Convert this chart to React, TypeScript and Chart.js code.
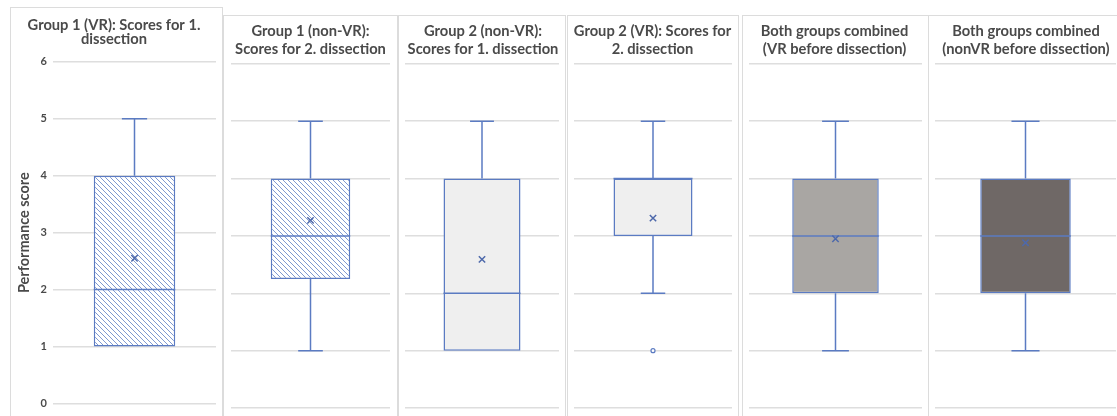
import React, { useEffect, useRef } from "react";
import { Chart, registerables } from "chart.js";

Chart.register(...registerables);

// ---------------- data ----------------
const panelTitles: string[][] = [
  ["Group 1 (VR): Scores for 1.", "dissection"],
  ["Group 1 (non-VR):", "Scores for 2. dissection"],
  ["Group 2 (non-VR):", "Scores for 1. dissection"],
  ["Group 2 (VR): Scores for", "2. dissection"],
  ["Both groups combined", "(VR before dissection)"],
  ["Both groups combined", "(nonVR before dissection)"],
];
const categoryLabel = ["Score"];
const minValues = [1, 1, 1, 2, 1, 1];
const q1Values = [1, 2.25, 1, 3, 2, 2];
const medianValues = [2, 3, 2, 4, 3, 3];
const q3Values = [4, 4, 4, 4, 4, 4];
const maxValues = [5, 5, 5, 5, 5, 5];
const meanValues = [2.55, 3.27, 2.59, 3.31, 2.95, 2.88];
const outlierValues: number[][] = [[], [], [], [1], [], []];
const yAxisTitle = "Performance score";
const yMin = 0;
const yMax = 6;
const yStep = 1;

// ---------------- styles ----------------
const FONT = "Lato, 'Open Sans', sans-serif";
const LINE = "#5B7BC2";
const MEAN = "#4E69AB";
const GRID = "#DEDEDE";
const TEXT = "#4A4A4A";
const PANEL_BORDER = "#DCDCDC";
const boxFills = ["hatch", "hatch", "#EFEFEF", "#EFEFEF", "#A9A6A3", "#6F6866"];

const frames = [
  { left: 10, top: 7, width: 213, axisW: 42, padL: 0, padR: 5, padB: 10, tTop: 10, tBot: 16, lh: 0.95 },
  { left: 223, top: 15, width: 175, axisW: 0, padL: 7, padR: 7, padB: 8, tTop: 6.5, tBot: 6, lh: 1.2 },
  { left: 398, top: 15, width: 168, axisW: 0, padL: 4, padR: 2, padB: 8, tTop: 6.5, tBot: 6, lh: 1.2 },
  { left: 567, top: 15, width: 172, axisW: 0, padL: 4, padR: 5, padB: 8, tTop: 6.5, tBot: 6, lh: 1.2 },
  { left: 742, top: 15, width: 187, axisW: 0, padL: 4, padR: 6, padB: 8, tTop: 6.5, tBot: 6, lh: 1.2 },
  { left: 928, top: 15, width: 195, axisW: 0, padL: 6, padR: 5, padB: 8, tTop: 6.5, tBot: 6, lh: 1.2 },
];

function makeHatch(): CanvasPattern | string {
  const s = 5;
  const c = document.createElement("canvas");
  c.width = s;
  c.height = s;
  const g = c.getContext("2d");
  if (!g) return "#FFFFFF";
  g.fillStyle = "#FFFFFF";
  g.fillRect(0, 0, s, s);
  g.strokeStyle = "#7F99D0";
  g.lineWidth = 1;
  g.beginPath();
  for (const k of [-s, 0, s]) {
    g.moveTo(k, 0);
    g.lineTo(k + s, s);
  }
  g.stroke();
  return g.createPattern(c, "repeat") || "#FFFFFF";
}

function Panel({ idx }: { idx: number }) {
  const ref = useRef<HTMLCanvasElement>(null);
  const f = frames[idx];
  useEffect(() => {
    if (!ref.current) return;
    const fill = boxFills[idx] === "hatch" ? makeHatch() : boxFills[idx];
    const whiskerPlugin = {
      id: "whiskers" + idx,
      afterDatasetDraw(chart: any, args: any) {
        if (args.index !== 0) return;
        const el = args.meta.data[0];
        if (!el) return;
        const y = chart.scales.y;
        const ctx = chart.ctx;
        const x = el.x;
        const half = el.width / 2;
        const cap = el.width * 0.155;
        ctx.save();
        ctx.strokeStyle = LINE;
        ctx.lineWidth = 1.5;
        ctx.beginPath();
        const ym = y.getPixelForValue(medianValues[idx]);
        ctx.moveTo(x - half, ym);
        ctx.lineTo(x + half, ym);
        const yq3 = y.getPixelForValue(q3Values[idx]);
        const yMaxP = y.getPixelForValue(maxValues[idx]);
        if (maxValues[idx] > q3Values[idx]) {
          ctx.moveTo(x, yq3);
          ctx.lineTo(x, yMaxP);
          ctx.moveTo(x - cap, yMaxP);
          ctx.lineTo(x + cap, yMaxP);
        }
        const yq1 = y.getPixelForValue(q1Values[idx]);
        const yMinP = y.getPixelForValue(minValues[idx]);
        if (minValues[idx] < q1Values[idx]) {
          ctx.moveTo(x, yq1);
          ctx.lineTo(x, yMinP);
          ctx.moveTo(x - cap, yMinP);
          ctx.lineTo(x + cap, yMinP);
        }
        ctx.stroke();
        ctx.restore();
      },
    };
    const isFirst = idx === 0;
    const chart = new Chart(ref.current, {
      type: "bar",
      data: {
        labels: categoryLabel,
        datasets: [
          {
            type: "bar",
            data: [[q1Values[idx], q3Values[idx]]] as any,
            backgroundColor: fill as any,
            borderColor: LINE,
            borderWidth: 1.5,
            borderSkipped: false,
            grouped: false,
            barPercentage: 0.5,
            categoryPercentage: 1,
            order: 2,
          } as any,
          {
            type: "line",
            data: [{ x: categoryLabel[0], y: meanValues[idx] }] as any,
            showLine: false,
            pointStyle: "crossRot",
            pointRadius: 4.5,
            pointBorderColor: MEAN,
            pointBorderWidth: 1.5,
            pointBackgroundColor: MEAN,
            order: 0,
          } as any,
          {
            type: "line",
            data: outlierValues[idx].map((v) => ({ x: categoryLabel[0], y: v })) as any,
            showLine: false,
            pointStyle: "circle",
            pointRadius: 2,
            pointBorderColor: LINE,
            pointBorderWidth: 1.2,
            pointBackgroundColor: "#FFFFFF",
            order: 0,
          } as any,
        ],
      },
      options: {
        responsive: false,
        animation: false,
        events: [],
        layout: { padding: { left: f.padL, right: f.padR, top: 0, bottom: f.padB } },
        plugins: {
          legend: { display: false },
          tooltip: { enabled: false },
          title: {
            display: true,
            text: panelTitles[idx],
            color: TEXT,
            font: { family: FONT, size: 14.7, weight: "bold", lineHeight: f.lh },
            padding: { top: f.tTop, bottom: f.tBot },
          },
        },
        scales: {
          x: { display: false },
          y: {
            min: yMin,
            max: yMax,
            border: { display: false },
            grid: { color: GRID, lineWidth: 1.5, drawTicks: false },
            ticks: {
              display: isFirst,
              stepSize: yStep,
              color: TEXT,
              padding: 6,
              font: { family: FONT, size: 11, weight: "bold" },
            },
            title: {
              display: isFirst,
              text: yAxisTitle,
              color: TEXT,
              font: { family: FONT, size: 14.5, weight: "bold" },
              padding: { top: 5, bottom: 0 },
            },
            afterFit: (scale: any) => {
              scale.width = f.axisW;
            },
          },
        },
      } as any,
      plugins: [whiskerPlugin],
    });
    return () => chart.destroy();
  }, [idx]);
  return (
    <div
      style={{
        position: "absolute",
        left: f.left,
        top: f.top,
        width: f.width,
        height: 440,
        border: `1px solid ${PANEL_BORDER}`,
        boxSizing: "border-box",
        background: "#FFFFFF",
      }}
    >
      <canvas ref={ref} width={f.width - 2} height={416 - f.top - 1} style={{ display: "block" }} />
    </div>
  );
}

export default function App() {
  return (
    <div
      style={{
        position: "absolute",
        left: 0,
        top: 0,
        width: 1117,
        height: 416,
        overflow: "hidden",
        background: "#FFFFFF",
      }}
    >
      {panelTitles.map((_, i) => (
        <Panel key={i} idx={i} />
      ))}
    </div>
  );
}
